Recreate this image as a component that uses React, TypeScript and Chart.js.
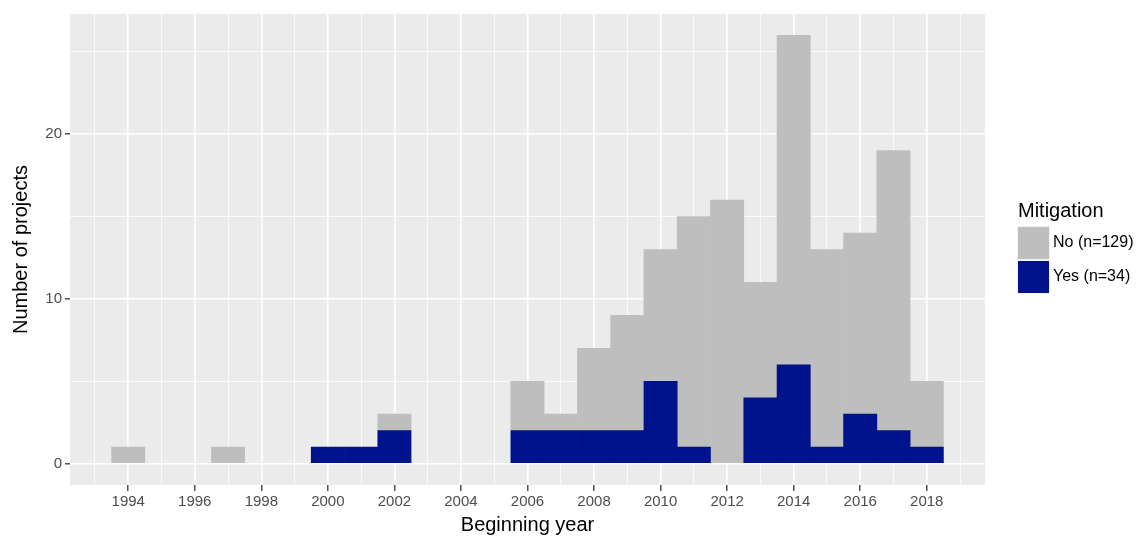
import React, { useEffect, useRef } from "react";
import { Chart, registerables } from "chart.js";

Chart.register(...registerables);

const years: number[] = [
  1994, 1995, 1996, 1997, 1998, 1999, 2000, 2001, 2002, 2003, 2004, 2005, 2006,
  2007, 2008, 2009, 2010, 2011, 2012, 2013, 2014, 2015, 2016, 2017, 2018,
];
// Mitigation = No (stacked on top)
const noCounts: number[] = [
  1, 0, 0, 1, 0, 0, 0, 0, 1, 0, 0, 0, 3, 1, 5, 7, 8, 14, 16, 7, 20, 12, 11, 17, 4,
];
// Mitigation = Yes (bottom)
const yesCounts: number[] = [
  0, 0, 0, 0, 0, 0, 1, 1, 2, 0, 0, 0, 2, 2, 2, 2, 5, 1, 0, 4, 6, 1, 3, 2, 1,
];
const seriesLabels: string[] = ["Yes (n=34)", "No (n=129)"];
const legendTitle = "Mitigation";
const xTitle = "Beginning year";
const yTitle = "Number of projects";
const xTickValues: number[] = [
  1993, 1994, 1995, 1996, 1997, 1998, 1999, 2000, 2001, 2002, 2003, 2004, 2005,
  2006, 2007, 2008, 2009, 2010, 2011, 2012, 2013, 2014, 2015, 2016, 2017, 2018,
  2019,
];
const yTickValues: number[] = [0, 5, 10, 15, 20, 25];

const FONT = "'Liberation Sans', Arial, sans-serif";
const GREY = "#BEBEBE";
const BLUE = "#00128C";

export default function App() {
  const ref = useRef<HTMLCanvasElement | null>(null);

  useEffect(() => {
    if (!ref.current) return;

    const panelBg = {
      id: "panelBg",
      beforeDraw(chart: any) {
        const { ctx, chartArea } = chart;
        ctx.save();
        ctx.fillStyle = "#EBEBEB";
        ctx.fillRect(
          chartArea.left,
          chartArea.top,
          chartArea.right - chartArea.left,
          chartArea.bottom - chartArea.top
        );
        ctx.restore();
      },
    };

    const legendPlugin = {
      id: "ggLegend",
      afterDraw(chart: any) {
        const { ctx } = chart;
        const ds = chart.data.datasets;
        ctx.save();
        ctx.textBaseline = "middle";
        ctx.textAlign = "left";
        ctx.fillStyle = "#000000";
        ctx.font = `20px ${FONT}`;
        ctx.fillText(legendTitle, 1018, 211);
        const order = [1, 0];
        order.forEach((di, i) => {
          const y0 = 227 + i * 34;
          ctx.fillStyle = "#F2F2F2";
          ctx.fillRect(1017, y0 - 1, 33, 34);
          ctx.fillStyle = ds[di].backgroundColor;
          ctx.fillRect(1018, y0, 31, 32);
          ctx.fillStyle = "#000000";
          ctx.font = `16px ${FONT}`;
          ctx.fillText(ds[di].label, 1053, y0 + 16);
        });
        ctx.restore();
      },
    };

    const toPoints = (vals: number[]) =>
      years.map((x, i) => ({ x, y: vals[i] === 0 ? null : vals[i] }));

    const chart = new Chart(ref.current, {
      type: "bar",
      data: {
        datasets: [
          {
            label: seriesLabels[0],
            data: toPoints(yesCounts),
            backgroundColor: BLUE,
            borderWidth: 0,
            barPercentage: 1,
            categoryPercentage: 1,
          },
          {
            label: seriesLabels[1],
            data: toPoints(noCounts),
            backgroundColor: GREY,
            borderWidth: 0,
            barPercentage: 1,
            categoryPercentage: 1,
          },
        ],
      },
      options: {
        animation: false,
        responsive: true,
        maintainAspectRatio: false,
        layout: { padding: { top: 14, right: 160, left: 0, bottom: 0 } },
        plugins: {
          legend: { display: false },
          tooltip: { enabled: false },
        },
        scales: {
          x: {
            type: "linear",
            stacked: true,
            min: 1992.25,
            max: 2019.75,
            offset: false,
            afterBuildTicks(scale: any) {
              scale.ticks = xTickValues.map((v) => ({ value: v }));
            },
            afterFit(scale: any) {
              scale.height = 53;
            },
            border: { display: false },
            grid: {
              offset: false,
              color: "#FFFFFF",
              lineWidth: (c: any) => (c.tick && c.tick.value % 2 === 0 ? 1.6 : 0.8),
              tickLength: 6,
              tickColor: (c: any) =>
                c.tick && c.tick.value % 2 === 0 ? "#333333" : "rgba(0,0,0,0)",
              tickWidth: 1.3,
            },
            ticks: {
              autoSkip: false,
              maxRotation: 0,
              padding: 2,
              color: "#4D4D4D",
              font: { family: FONT, size: 15 },
              callback: (v: any) => (Number(v) % 2 === 0 ? String(v) : ""),
            },
            title: {
              display: true,
              text: xTitle,
              color: "#000000",
              font: { family: FONT, size: 20 },
              padding: { top: 0, bottom: 1 },
            },
          },
          y: {
            type: "linear",
            stacked: true,
            min: -1.3,
            max: 27.3,
            afterBuildTicks(scale: any) {
              scale.ticks = yTickValues.map((v) => ({ value: v }));
            },
            afterFit(scale: any) {
              scale.width = 70;
            },
            border: { display: false },
            grid: {
              color: "#FFFFFF",
              lineWidth: (c: any) => (c.tick && c.tick.value % 10 === 0 ? 1.6 : 0.8),
              tickLength: 5,
              tickColor: (c: any) =>
                c.tick && c.tick.value % 10 === 0 ? "#333333" : "rgba(0,0,0,0)",
              tickWidth: 1.3,
            },
            ticks: {
              autoSkip: false,
              padding: 3,
              color: "#4D4D4D",
              font: { family: FONT, size: 15 },
              callback: (v: any) => (Number(v) % 10 === 0 ? String(v) : ""),
            },
            title: {
              display: true,
              text: yTitle,
              color: "#000000",
              font: { family: FONT, size: 20 },
              padding: { top: 9, bottom: 0 },
            },
          },
        },
      },
      plugins: [panelBg, legendPlugin],
    } as any);

    return () => chart.destroy();
  }, []);

  return (
    <div
      style={{
        position: "fixed",
        left: 0,
        top: 0,
        width: "1145px",
        height: "538px",
        background: "#FFFFFF",
      }}
    >
      <canvas ref={ref} />
    </div>
  );
}
